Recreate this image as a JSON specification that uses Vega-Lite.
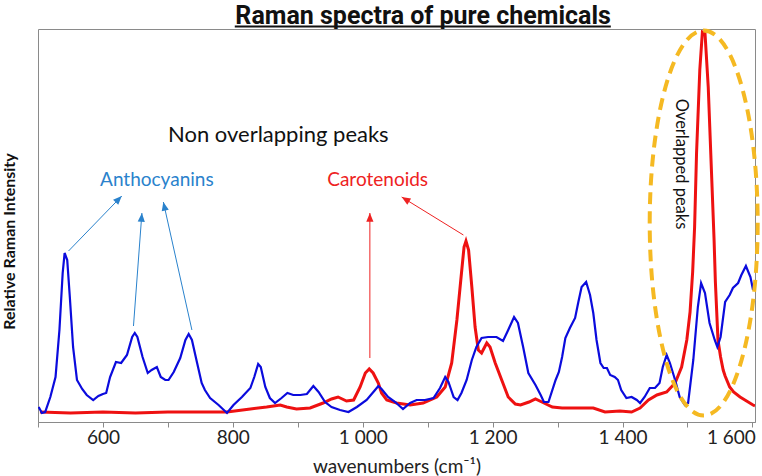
{
  "$schema": "https://vega.github.io/schema/vega-lite/v6.json",
  "width": 717,
  "height": 393,
  "autosize": {"type": "none"},
  "padding": {"left": 38, "top": 29, "right": 7, "bottom": 54},
  "background": "white",
  "config": {"view": {"stroke": "#8a8a8a", "strokeWidth": 1}, "font": "Lato"},
  "datasets": {
    "blue": [
      {"wn": 501, "intensity": 15}, {"wn": 506, "intensity": 9}, {"wn": 511, "intensity": 10}, {"wn": 519, "intensity": 25},
      {"wn": 527, "intensity": 45}, {"wn": 533, "intensity": 92}, {"wn": 538, "intensity": 149}, {"wn": 541, "intensity": 169},
      {"wn": 545, "intensity": 162}, {"wn": 549, "intensity": 125}, {"wn": 554, "intensity": 75}, {"wn": 560, "intensity": 42},
      {"wn": 568, "intensity": 33}, {"wn": 575, "intensity": 27}, {"wn": 585, "intensity": 22}, {"wn": 593, "intensity": 26},
      {"wn": 600, "intensity": 28}, {"wn": 605, "intensity": 29}, {"wn": 611, "intensity": 45}, {"wn": 620, "intensity": 60},
      {"wn": 628, "intensity": 59}, {"wn": 637, "intensity": 67}, {"wn": 645, "intensity": 85}, {"wn": 649, "intensity": 89},
      {"wn": 653, "intensity": 85}, {"wn": 661, "intensity": 65}, {"wn": 669, "intensity": 49}, {"wn": 675, "intensity": 52},
      {"wn": 683, "intensity": 55}, {"wn": 689, "intensity": 45}, {"wn": 696, "intensity": 42}, {"wn": 701, "intensity": 42},
      {"wn": 709, "intensity": 50}, {"wn": 719, "intensity": 64}, {"wn": 727, "intensity": 82}, {"wn": 732, "intensity": 88},
      {"wn": 737, "intensity": 82}, {"wn": 745, "intensity": 59}, {"wn": 752, "intensity": 39}, {"wn": 757, "intensity": 32},
      {"wn": 765, "intensity": 24}, {"wn": 778, "intensity": 17}, {"wn": 791, "intensity": 9}, {"wn": 801, "intensity": 17},
      {"wn": 814, "intensity": 25}, {"wn": 827, "intensity": 34}, {"wn": 833, "intensity": 45}, {"wn": 839, "intensity": 58},
      {"wn": 843, "intensity": 55}, {"wn": 850, "intensity": 35}, {"wn": 857, "intensity": 24}, {"wn": 865, "intensity": 19},
      {"wn": 875, "intensity": 24}, {"wn": 884, "intensity": 29}, {"wn": 893, "intensity": 27}, {"wn": 904, "intensity": 27},
      {"wn": 914, "intensity": 28}, {"wn": 924, "intensity": 36}, {"wn": 932, "intensity": 30}, {"wn": 942, "intensity": 20},
      {"wn": 952, "intensity": 15}, {"wn": 965, "intensity": 12}, {"wn": 978, "intensity": 10}, {"wn": 991, "intensity": 15},
      {"wn": 1006, "intensity": 22}, {"wn": 1019, "intensity": 32}, {"wn": 1024, "intensity": 36}, {"wn": 1029, "intensity": 33},
      {"wn": 1039, "intensity": 25}, {"wn": 1050, "intensity": 20}, {"wn": 1062, "intensity": 13}, {"wn": 1073, "intensity": 19},
      {"wn": 1083, "intensity": 22}, {"wn": 1096, "intensity": 22}, {"wn": 1109, "intensity": 24}, {"wn": 1119, "intensity": 34},
      {"wn": 1127, "intensity": 45}, {"wn": 1132, "intensity": 40}, {"wn": 1140, "intensity": 25}, {"wn": 1146, "intensity": 22},
      {"wn": 1152, "intensity": 29}, {"wn": 1160, "intensity": 42}, {"wn": 1168, "intensity": 62}, {"wn": 1175, "intensity": 75},
      {"wn": 1183, "intensity": 84}, {"wn": 1193, "intensity": 85}, {"wn": 1206, "intensity": 85}, {"wn": 1216, "intensity": 81},
      {"wn": 1224, "intensity": 92}, {"wn": 1233, "intensity": 105}, {"wn": 1239, "intensity": 99}, {"wn": 1247, "intensity": 75},
      {"wn": 1255, "intensity": 49}, {"wn": 1266, "intensity": 37}, {"wn": 1274, "intensity": 27}, {"wn": 1279, "intensity": 20},
      {"wn": 1286, "intensity": 20}, {"wn": 1297, "intensity": 42}, {"wn": 1302, "intensity": 50}, {"wn": 1307, "intensity": 65},
      {"wn": 1312, "intensity": 84}, {"wn": 1319, "intensity": 94}, {"wn": 1327, "intensity": 104}, {"wn": 1332, "intensity": 120},
      {"wn": 1337, "intensity": 135}, {"wn": 1344, "intensity": 140}, {"wn": 1350, "intensity": 127}, {"wn": 1355, "intensity": 109},
      {"wn": 1360, "intensity": 82}, {"wn": 1366, "intensity": 59}, {"wn": 1371, "intensity": 54}, {"wn": 1376, "intensity": 54},
      {"wn": 1381, "intensity": 47}, {"wn": 1388, "intensity": 45}, {"wn": 1393, "intensity": 42}, {"wn": 1398, "intensity": 32},
      {"wn": 1406, "intensity": 24}, {"wn": 1414, "intensity": 25}, {"wn": 1422, "intensity": 22}, {"wn": 1427, "intensity": 19},
      {"wn": 1434, "intensity": 25}, {"wn": 1442, "intensity": 34}, {"wn": 1450, "intensity": 34}, {"wn": 1457, "intensity": 39},
      {"wn": 1462, "intensity": 55}, {"wn": 1468, "intensity": 67}, {"wn": 1473, "intensity": 59}, {"wn": 1481, "intensity": 42},
      {"wn": 1488, "intensity": 25}, {"wn": 1496, "intensity": 17}, {"wn": 1501, "intensity": 19}, {"wn": 1509, "intensity": 62},
      {"wn": 1516, "intensity": 115}, {"wn": 1521, "intensity": 139}, {"wn": 1527, "intensity": 129}, {"wn": 1534, "intensity": 99},
      {"wn": 1542, "intensity": 82}, {"wn": 1546, "intensity": 75}, {"wn": 1551, "intensity": 85}, {"wn": 1558, "intensity": 120},
      {"wn": 1565, "intensity": 127}, {"wn": 1570, "intensity": 134}, {"wn": 1578, "intensity": 139}, {"wn": 1583, "intensity": 147},
      {"wn": 1590, "intensity": 156}, {"wn": 1597, "intensity": 145}, {"wn": 1601, "intensity": 132}
    ],
    "red": [
      {"wn": 503, "intensity": 10}, {"wn": 550, "intensity": 9}, {"wn": 600, "intensity": 10}, {"wn": 650, "intensity": 9},
      {"wn": 700, "intensity": 10}, {"wn": 760, "intensity": 10}, {"wn": 791, "intensity": 10}, {"wn": 827, "intensity": 13},
      {"wn": 852, "intensity": 15}, {"wn": 873, "intensity": 17}, {"wn": 883, "intensity": 15}, {"wn": 898, "intensity": 13},
      {"wn": 919, "intensity": 14}, {"wn": 939, "intensity": 19}, {"wn": 952, "intensity": 23}, {"wn": 962, "intensity": 25},
      {"wn": 975, "intensity": 21}, {"wn": 986, "intensity": 22}, {"wn": 996, "intensity": 35}, {"wn": 1004, "intensity": 49},
      {"wn": 1010, "intensity": 53}, {"wn": 1016, "intensity": 49}, {"wn": 1024, "intensity": 39}, {"wn": 1029, "intensity": 29},
      {"wn": 1037, "intensity": 22}, {"wn": 1052, "intensity": 19}, {"wn": 1073, "intensity": 17}, {"wn": 1093, "intensity": 19},
      {"wn": 1114, "intensity": 25}, {"wn": 1127, "intensity": 35}, {"wn": 1137, "intensity": 59}, {"wn": 1145, "intensity": 102},
      {"wn": 1151, "intensity": 142}, {"wn": 1156, "intensity": 175}, {"wn": 1159, "intensity": 181}, {"wn": 1163, "intensity": 172},
      {"wn": 1168, "intensity": 135}, {"wn": 1173, "intensity": 95}, {"wn": 1178, "intensity": 72}, {"wn": 1183, "intensity": 69},
      {"wn": 1191, "intensity": 79}, {"wn": 1196, "intensity": 75}, {"wn": 1204, "intensity": 59}, {"wn": 1214, "intensity": 42},
      {"wn": 1224, "intensity": 25}, {"wn": 1235, "intensity": 18}, {"wn": 1243, "intensity": 17}, {"wn": 1256, "intensity": 20},
      {"wn": 1266, "intensity": 23}, {"wn": 1279, "intensity": 19}, {"wn": 1292, "intensity": 15}, {"wn": 1307, "intensity": 14},
      {"wn": 1329, "intensity": 14}, {"wn": 1355, "intensity": 14}, {"wn": 1373, "intensity": 10}, {"wn": 1396, "intensity": 11},
      {"wn": 1414, "intensity": 10}, {"wn": 1427, "intensity": 14}, {"wn": 1440, "intensity": 22}, {"wn": 1453, "intensity": 27},
      {"wn": 1468, "intensity": 30}, {"wn": 1481, "intensity": 39}, {"wn": 1491, "intensity": 55}, {"wn": 1499, "intensity": 82},
      {"wn": 1504, "intensity": 110}, {"wn": 1508, "intensity": 150}, {"wn": 1511, "intensity": 195}, {"wn": 1514, "intensity": 269},
      {"wn": 1519, "intensity": 352}, {"wn": 1523, "intensity": 390}, {"wn": 1527, "intensity": 389}, {"wn": 1532, "intensity": 335},
      {"wn": 1537, "intensity": 250}, {"wn": 1541, "intensity": 182}, {"wn": 1543, "intensity": 140}, {"wn": 1547, "intensity": 82},
      {"wn": 1551, "intensity": 65}, {"wn": 1555, "intensity": 52}, {"wn": 1558, "intensity": 46}, {"wn": 1565, "intensity": 35},
      {"wn": 1571, "intensity": 30}, {"wn": 1581, "intensity": 25}, {"wn": 1586, "intensity": 23}, {"wn": 1601, "intensity": 17},
      {"wn": 1604, "intensity": 16}
    ],
    "arrows": [
      {"x1": 547, "y1": 171, "x2": 629, "y2": 226, "group": "Anthocyanins"},
      {"x1": 647, "y1": 96, "x2": 660, "y2": 209, "group": "Anthocyanins"},
      {"x1": 737, "y1": 92, "x2": 693, "y2": 220, "group": "Anthocyanins"},
      {"x1": 1011, "y1": 64, "x2": 1011, "y2": 209, "group": "Carotenoids"},
      {"x1": 1155, "y1": 187, "x2": 1060, "y2": 225, "group": "Carotenoids"}
    ]
  },
  "layer": [
    {
      "data": {"name": "red"},
      "mark": {"type": "line", "color": "#EE1111", "strokeWidth": 3, "clip": true},
      "encoding": {
        "x": {"field": "wn", "type": "quantitative", "scale": {"domain": [500, 1604], "nice": false, "zero": false},
          "axis": {"title": "wavenumbers (cm⁻¹)", "values": [500, 600, 700, 800, 900, 1000, 1100, 1200, 1300, 1400, 1500, 1600],
            "labelExpr": "datum.value % 200 == 0 && datum.value > 500 ? replace(format(datum.value, ','), ',', ' ') : ''",
            "grid": false, "tickColor": "#8a8a8a", "domainColor": "#8a8a8a", "tickSize": 5, "labelFontSize": 19, "labelColor": "#222222",
            "labelPadding": 1, "labelFont": "Lato", "titleFont": "Lato", "titleFontSize": 19, "titleFontWeight": "normal", "titleColor": "#222222",
            "titleY": 44, "titleBaseline": "middle", "labelFlush": 6, "labelFlushOffset": 3, "labelOverlap": false}},
        "y": {"field": "intensity", "type": "quantitative", "scale": {"domain": [0, 393], "nice": false},
          "axis": {"title": "Relative Raman Intensity", "labels": false, "ticks": false, "domain": false, "grid": false,
            "titleFont": "Lato", "titleFontSize": 16, "titleFontWeight": "bold", "titleColor": "#111111",
            "titleX": -29, "titleY": 212, "titleBaseline": "middle", "titleAlign": "center", "titleAngle": -90}}
      }
    },
    {
      "data": {"name": "blue"},
      "mark": {"type": "line", "color": "#0B0BDD", "strokeWidth": 2.2, "clip": true},
      "encoding": {
        "x": {"field": "wn", "type": "quantitative"},
        "y": {"field": "intensity", "type": "quantitative"}
      }
    },
    {
      "data": {"name": "arrows"},
      "mark": {"type": "rule", "strokeWidth": 1},
      "encoding": {
        "x": {"field": "x1", "type": "quantitative"},
        "y": {"field": "y1", "type": "quantitative"},
        "x2": {"field": "x2"},
        "y2": {"field": "y2"},
        "color": {"field": "group", "type": "nominal", "scale": {"domain": ["Anthocyanins", "Carotenoids"], "range": ["#2A82CC", "#EE2222"]}, "legend": null}
      }
    },
    {
      "data": {"name": "arrows"},
      "transform": [{"calculate": "atan2((datum.x2 - datum.x1) * 0.6495, datum.y2 - datum.y1) * 180 / PI", "as": "ang"}],
      "mark": {"type": "point", "shape": "M0,0L0.9,2.2L-0.9,2.2Z", "size": 64, "filled": true, "opacity": 1},
      "encoding": {
        "x": {"field": "x2", "type": "quantitative"},
        "y": {"field": "y2", "type": "quantitative"},
        "angle": {"field": "ang", "type": "quantitative", "scale": null},
        "color": {"field": "group", "type": "nominal", "legend": null}
      }
    },
    {
      "data": {"values": [{"wn": 1525, "intensity": 199}]},
      "mark": {"type": "point", "shape": "M0,-1C0.1549,-1,0.2805,-0.552,0.2805,0C0.2805,0.552,0.1549,1,0,1C-0.1549,1,-0.2805,0.552,-0.2805,0C-0.2805,-0.552,-0.1549,-1,0,-1Z",
        "size": 148225, "filled": false, "stroke": "#F5B922", "strokeWidth": 4, "strokeDash": [12, 7], "opacity": 1, "strokeOpacity": 1},
      "encoding": {
        "x": {"field": "wn", "type": "quantitative"},
        "y": {"field": "intensity", "type": "quantitative"}
      }
    },
    {
      "data": {"values": [{"label": "Raman spectra of pure chemicals", "wn": 1093, "intensity": 398.5}]},
      "mark": {"type": "text", "fontSize": 25, "font": "Roboto", "fontWeight": "bold", "color": "#111111", "align": "center", "baseline": "alphabetic", "clip": false},
      "encoding": {
        "x": {"field": "wn", "type": "quantitative"},
        "y": {"field": "intensity", "type": "quantitative"},
        "text": {"field": "label"}
      }
    },
    {
      "data": {"values": [{"from": 803, "to": 1382, "level": 395.5}]},
      "mark": {"type": "rule", "color": "#111111", "strokeWidth": 2, "clip": false},
      "encoding": {
        "x": {"field": "from", "type": "quantitative"},
        "x2": {"field": "to"},
        "y": {"field": "level", "type": "quantitative"}
      }
    },
    {
      "data": {"values": [{"label": "Non overlapping peaks", "wn": 870, "intensity": 287}]},
      "mark": {"type": "text", "fontSize": 22, "font": "Lato", "color": "#111111", "align": "center", "baseline": "middle"},
      "encoding": {
        "x": {"field": "wn", "type": "quantitative"},
        "y": {"field": "intensity", "type": "quantitative"},
        "text": {"field": "label"}
      }
    },
    {
      "data": {"values": [{"label": "Anthocyanins", "wn": 683, "intensity": 242, "group": "Anthocyanins"}, {"label": "Carotenoids", "wn": 1023, "intensity": 242, "group": "Carotenoids"}]},
      "mark": {"type": "text", "fontSize": 19, "font": "Lato", "align": "center", "baseline": "middle"},
      "encoding": {
        "x": {"field": "wn", "type": "quantitative"},
        "y": {"field": "intensity", "type": "quantitative"},
        "text": {"field": "label"},
        "color": {"field": "group", "type": "nominal", "legend": null}
      }
    },
    {
      "data": {"values": [{"label": "Overlapped peaks", "wn": 1490, "intensity": 258}]},
      "mark": {"type": "text", "fontSize": 16.5, "font": "Lato", "color": "#111111", "align": "center", "baseline": "middle", "angle": 90},
      "encoding": {
        "x": {"field": "wn", "type": "quantitative"},
        "y": {"field": "intensity", "type": "quantitative"},
        "text": {"field": "label"}
      }
    }
  ]
}
